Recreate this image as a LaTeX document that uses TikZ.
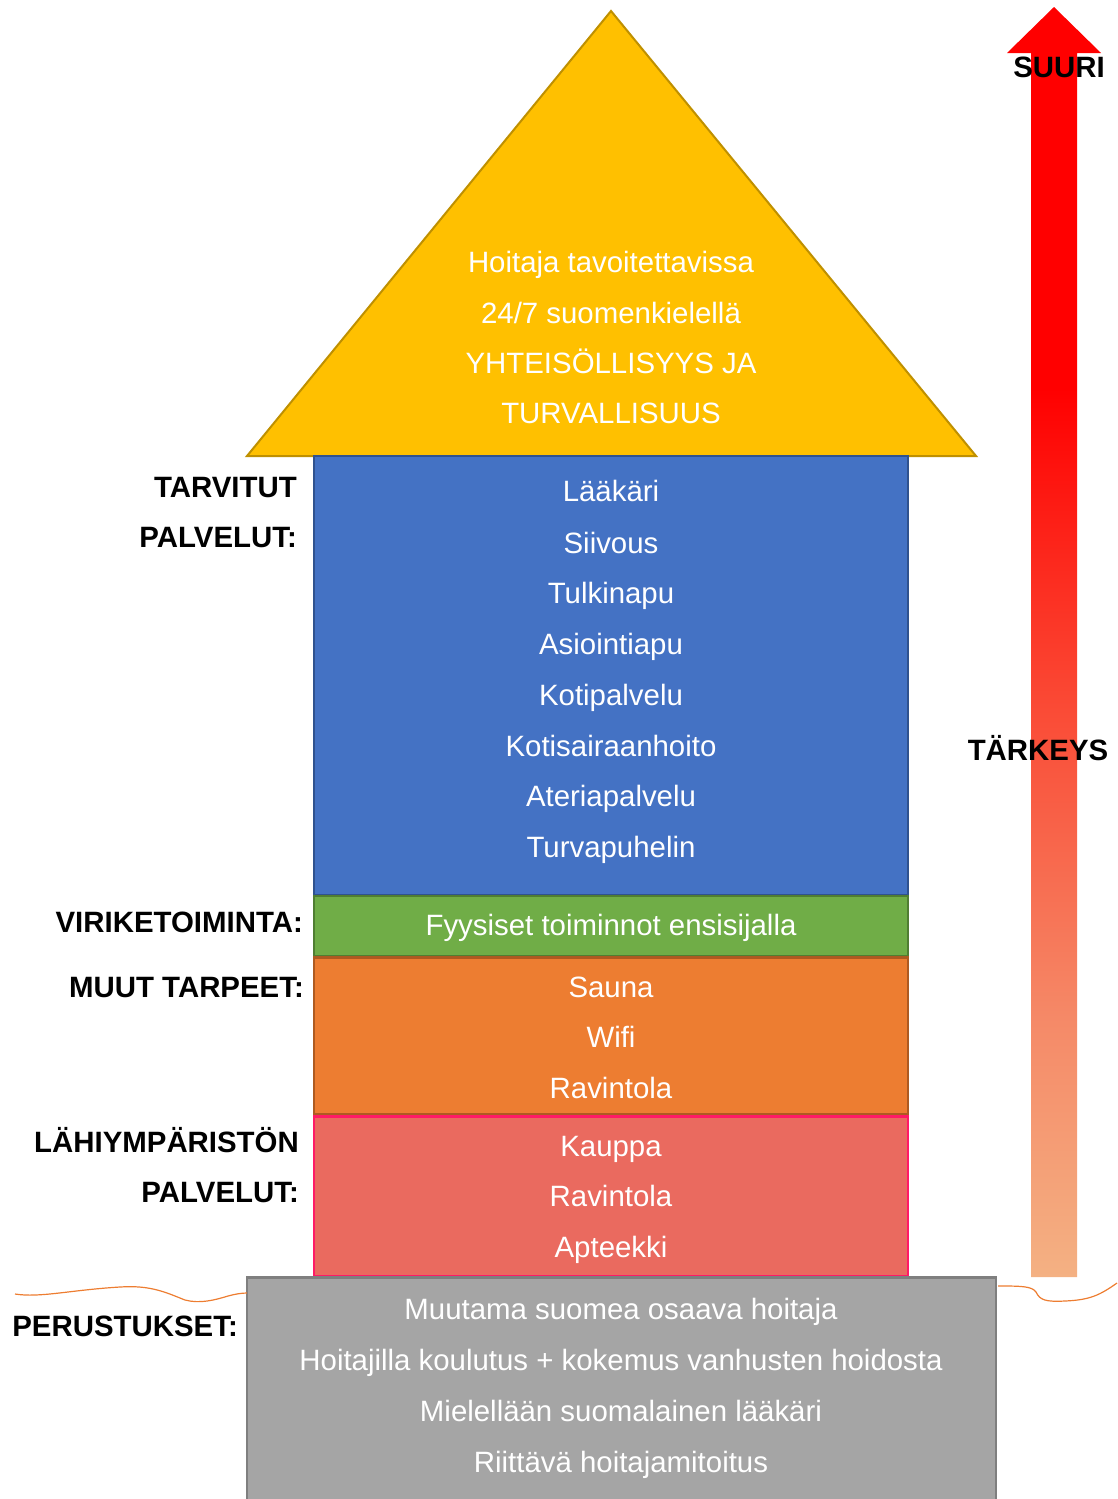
\documentclass[tikz,border=0pt]{standalone}
\usepackage{fontspec}
\setmainfont{Liberation Sans}
\definecolor{gold}{HTML}{FFC000}
\definecolor{goldb}{HTML}{BF9000}
\definecolor{blu}{HTML}{4472C4}
\definecolor{blub}{HTML}{2F528F}
\definecolor{grn}{HTML}{70AD47}
\definecolor{grnb}{HTML}{507E32}
\definecolor{org}{HTML}{ED7D31}
\definecolor{orgb}{HTML}{AE5A21}
\definecolor{sal}{HTML}{EA6A5F}
\definecolor{salb}{HTML}{FF1A66}
\definecolor{gry}{HTML}{A5A5A5}
\definecolor{gryb}{HTML}{7F7F7F}
\definecolor{arrlight}{HTML}{F4B183}
\definecolor{arrlm}{HTML}{F58A68}
\definecolor{arrmid}{HTML}{FA4A35}
\definecolor{wave}{HTML}{ED7D31}
\pgfdeclareverticalshading{arrowshade}{100bp}{color(0bp)=(arrlight); color(25bp)=(arrlight); color(35bp)=(arrlm); color(47.5bp)=(arrmid); color(60bp)=(red); color(100bp)=(red)}
\begin{document}
\begin{tikzpicture}[x=1pt,y=-1pt,
  txt/.style={anchor=base,text=white,font=\fontsize{29.4}{34}\selectfont,inner sep=0pt},
  lbl/.style={anchor=base east,text=black,font=\fontsize{29.4}{34}\selectfont\bfseries,inner sep=0pt},
  boxs/.style={draw=#1,line width=2.5pt,inner sep=0pt},
]
\useasboundingbox (0,0) rectangle (1117,1499);
% triangle
\draw[fill=gold,draw=goldb,line width=2pt] (611,11) -- (976,456) -- (247,456) -- cycle;
% boxes
\node[boxs=blub,fill=blu,minimum width=594pt,minimum height=439pt] (blue) at (611,675.5) {};
\node[boxs=grnb,fill=grn,minimum width=594pt,minimum height=60pt] (green) at (611,926) {};
\node[boxs=orgb,fill=org,minimum width=594pt,minimum height=157pt] (orange) at (611,1036) {};
\node[boxs=salb,fill=sal,minimum width=594pt,minimum height=160pt] (salmon) at (611,1196.5) {};
\node[boxs=gryb,fill=gry,minimum width=749pt,minimum height=240pt] (grey) at (621.5,1397.5) {};
% arrow
\shade[shading=arrowshade] (1031,1277) -- (1031,53) -- (1007,53) -- (1054,7) -- (1101,53) -- (1077,53) -- (1077,1277) -- cycle;
% wavy lines
\draw[wave,line width=1.2pt] (15,1294) .. controls (40,1298) and (70,1290) .. (120,1287)
  .. controls (150,1285) and (165,1292) .. (185,1300) .. controls (200,1304) and (215,1300) .. (228,1296)
  .. controls (235,1294) and (242,1293) .. (247,1293);
\draw[wave,line width=1.2pt] (998,1286) .. controls (1020,1286) and (1032,1286) .. (1036,1292)
  .. controls (1040,1300) and (1045,1302) .. (1065,1301) .. controls (1090,1300) and (1100,1295) .. (1117,1283);
% triangle text
\node[txt] (t1) at (611,272.5) {Hoitaja tavoitettavissa};
\node[txt] (t2) at (611,323.5) {24/7 suomenkielellä};
\node[txt] (t3) at (611,373.5) {YHTEISÖLLISYYS JA};
\node[txt] (t4) at (611,423.5) {TURVALLISUUS};
% blue text
\node[txt] (b1) at (611,501.5) {Lääkäri};
\node[txt] (b2) at (611,553.5) {Siivous};
\node[txt] (b3) at (611,603.5) {Tulkinapu};
\node[txt] (b4) at (611,654.5) {Asiointiapu};
\node[txt] (b5) at (611,705.5) {Kotipalvelu};
\node[txt] (b6) at (611,756.5) {Kotisairaanhoito};
\node[txt] (b7) at (611,806.5) {Ateriapalvelu};
\node[txt] (b8) at (611,857.5) {Turvapuhelin};
% green
\node[txt] (g1) at (611,935.5) {Fyysiset toiminnot ensisijalla};
% orange
\node[txt] (o1) at (611,997.5) {Sauna};
\node[txt] (o2) at (611,1047.5) {Wifi};
\node[txt] (o3) at (611,1098.5) {Ravintola};
% salmon
\node[txt] (s1) at (611,1156.5) {Kauppa};
\node[txt] (s2) at (611,1206.5) {Ravintola};
\node[txt] (s3) at (611,1257.5) {Apteekki};
% grey
\node[txt] (p1) at (621,1319.5) {Muutama suomea osaava hoitaja};
\node[txt] (p2) at (621,1370.5) {Hoitajilla koulutus + kokemus vanhusten hoidosta};
\node[txt] (p3) at (621,1421.5) {Mielellään suomalainen lääkäri};
\node[txt] (p4) at (621,1472.5) {Riittävä hoitajamitoitus};
% labels
\node[lbl] (l1) at (297,497.5) {TARVITUT};
\node[lbl] (l2) at (297,547.5) {PALVELUT:};
\node[lbl] (l3) at (303,932.5) {VIRIKETOIMINTA:};
\node[lbl] (l4) at (304,997.5) {MUUT TARPEET:};
\node[lbl] (l5) at (299,1152.5) {LÄHIYMPÄRISTÖN};
\node[lbl] (l6) at (299,1202.5) {PALVELUT:};
\node[lbl] (l7) at (238,1336.5) {PERUSTUKSET:};
\node[lbl,anchor=base] (su) at (1059,77.5) {SUURI};
\node[lbl,anchor=base] (ta) at (1038,760.5) {TÄRKEYS};
\end{tikzpicture}
\end{document}
